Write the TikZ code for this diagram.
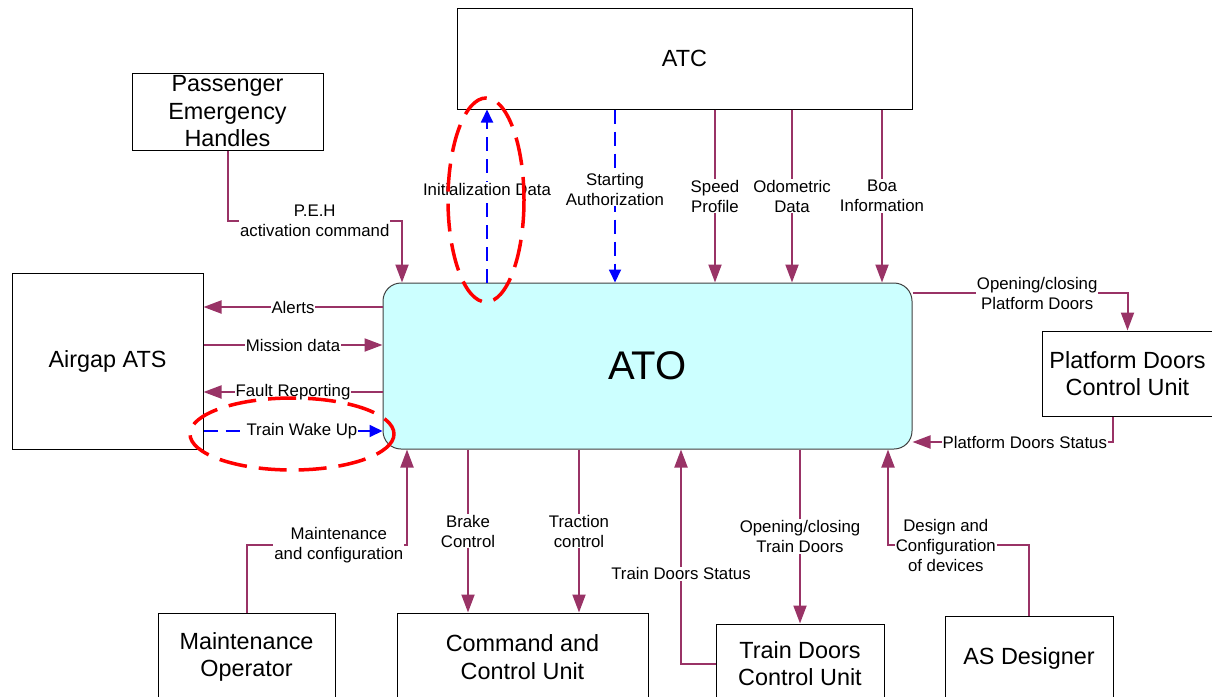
\documentclass[tikz,border=0pt]{standalone}
\usepackage{fontspec}
\setmainfont{Liberation Sans}
\usetikzlibrary{arrows.meta}
\definecolor{flowc}{RGB}{153,51,102}
\definecolor{atofill}{RGB}{204,255,255}

\begin{document}
\begin{tikzpicture}[x=1pt,y=-1pt,
  box/.style={draw=black, line width=1pt, fill=white, inner sep=0pt, align=center,
    font=\fontsize{23.4}{27.5}\selectfont},
  lbl/.style={fill=white, inner sep=1pt, align=center, font=\fontsize{16.8}{20}\selectfont},
  flow/.style={draw=flowc, line width=2pt, -{Triangle[length=18pt,width=13pt]}},
  sig/.style={draw=blue, line width=1.8pt, dash pattern=on 14pt off 8pt,
    -{Triangle[length=13pt,width=12pt]}},
  ring/.style={draw=red, line width=3.5pt, dash pattern=on 28pt off 12pt},
]
\useasboundingbox (0,0) rectangle (1212,696);
\clip (0,0) rectangle (1212,696);

% units and blocks
\node[box, minimum width=455, minimum height=101] (atc) at (684.5,58.5) {ATC};
\node[box, minimum width=191, minimum height=77] (peh) at (227.5,111.5) {Passenger\\Emergency\\Handles};
\node[box, minimum width=191, minimum height=176] (ats) at (107.5,361) {Airgap ATS};
\node[draw=black!75, line width=1pt, fill=atofill, rounded corners=18pt,
  minimum width=529, minimum height=166, inner sep=0pt,
  font=\fontsize{40}{48}\selectfont] (ato) at (647.5,366) {ATO};
\node[box, minimum width=171, minimum height=85] (pdcu) at (1127.5,373.5) {Platform Doors\\Control Unit};
\node[box, minimum width=177, minimum height=88] (mo) at (246.5,657) {Maintenance\\Operator};
\node[box, minimum width=251, minimum height=88] (ccu) at (522.5,657) {Command and\\Control Unit};
\node[box, minimum width=168, minimum height=79] (tdcu) at (800,663.5) {Train Doors\\Control Unit};
\node[box, minimum width=168, minimum height=84] (asd) at (1029,658) {AS Designer};

% routing levels
\coordinate (yPEH) at (0,221);
\coordinate (xPEH) at (402,0);
\coordinate (xInit) at (487,0);
\coordinate (xStart) at (615,0);
\coordinate (xSpeed) at (715,0);
\coordinate (xOdo) at (792,0);
\coordinate (xBoa) at (882,0);
\coordinate (yAlert) at (0,307);
\coordinate (yMission) at (0,345);
\coordinate (yFault) at (0,392);
\coordinate (yWake) at (0,431);
\coordinate (yPDo) at (0,293);
\coordinate (xPDs) at (1113,0);
\coordinate (yPDs) at (0,442);
\coordinate (yMaint) at (0,545);
\coordinate (xMaint) at (407,0);
\coordinate (xBrake) at (468,0);
\coordinate (xTrac) at (579,0);
\coordinate (yTDs) at (0,664);
\coordinate (xTDs) at (681,0);
\coordinate (yDes) at (0,545);
\coordinate (xDes) at (888,0);

% data flows
\draw[flow] (peh.south) -- (peh.south |- yPEH)
  -- node[lbl] (l-peh) {P.E.H\\activation command} (xPEH |- yPEH) -- (xPEH |- ato.north);

\draw[sig] (ato.north -| xInit) -- node[lbl, pos=0.54] (l-init) {Initialization Data} (atc.south -| xInit);
\draw[sig] (atc.south -| xStart) -- node[lbl, pos=0.46] (l-start) {Starting\\Authorization} (ato.north -| xStart);
\draw[flow] (atc.south -| xSpeed) -- node[lbl] (l-speed) {Speed\\Profile} (ato.north -| xSpeed);
\draw[flow] (atc.south -| xOdo) -- node[lbl] (l-odo) {Odometric\\Data} (ato.north -| xOdo);
\draw[flow] (atc.south -| xBoa) -- node[lbl] (l-boa) {Boa\\Information} (ato.north -| xBoa);

\draw[flow] (ato.west |- yAlert) -- node[lbl] (l-alert) {Alerts} (ats.east |- yAlert);
\draw[flow] (ats.east |- yMission) -- node[lbl] (l-mission) {Mission data} (ato.west |- yMission);
\draw[flow] (ato.west |- yFault) -- node[lbl] (l-fault) {Fault Reporting} (ats.east |- yFault);
\draw[sig] (ats.east |- yWake) -- node[lbl, pos=0.55] (l-wake) {Train Wake Up} (ato.west |- yWake);

\draw[flow] (ato.east |- yPDo) -- node[lbl, pos=0.58] (l-pdo) {Opening/closing\\Platform Doors} (pdcu.north |- yPDo) -- (pdcu.north);
\draw[flow] (pdcu.south -| xPDs) -- (xPDs |- yPDs)
  -- node[lbl, pos=0.44] (l-pds) {Platform Doors Status} (ato.east |- yPDs);

\draw[flow] (mo.north) -- (mo.north |- yMaint)
  -- node[lbl, pos=0.575] (l-maint) {Maintenance\\and configuration} (xMaint |- yMaint) -- (xMaint |- ato.south);
\draw[flow] (ato.south -| xBrake) -- node[lbl] (l-brake) {Brake\\Control} (ccu.north -| xBrake);
\draw[flow] (ato.south -| xTrac) -- node[lbl] (l-trac) {Traction\\control} (ccu.north -| xTrac);
\draw[flow] (tdcu.west |- yTDs) -- (xTDs |- yTDs)
  -- node[lbl, pos=0.42] (l-tds) {Train Doors Status} (xTDs |- ato.south);
\draw[flow] (ato.south -| tdcu.north) -- node[lbl] (l-tdo) {Opening/closing\\Train Doors} (tdcu.north);
\draw[flow] (asd.north) -- (asd.north |- yDes)
  -- node[lbl, pos=0.59] (l-des) {Design and\\Configuration\\of devices} (xDes |- yDes) -- (xDes |- ato.south);

% highlighted signals
\draw[ring] (486,200) ellipse [x radius=38, y radius=102];
\draw[ring] (292,434) ellipse [x radius=102, y radius=36];
\end{tikzpicture}
\end{document}
